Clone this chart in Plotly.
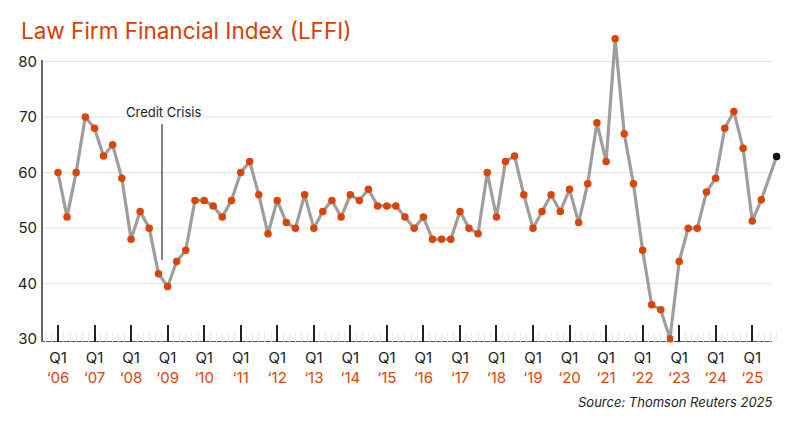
import plotly.graph_objects as go

# ---- data ----
years = list(range(2006, 2026))
quarter_months = ["01", "04", "07", "10"]
dates = [f"{y}-{m}-01" for y in range(2006, 2025) for m in quarter_months] + [
    "2025-01-01", "2025-04-01", "2025-09-01"]
values = [
    60, 52, 60, 70,      # 2006
    68, 63, 65, 59,      # 2007
    48, 53, 50, 41.8,    # 2008
    39.5, 44, 46, 55,    # 2009
    55, 54, 52, 55,      # 2010
    60, 62, 56, 49,      # 2011
    55, 51, 50, 56,      # 2012
    50, 53, 55, 52,      # 2013
    56, 55, 57, 54,      # 2014
    54, 54, 52, 50,      # 2015
    52, 48, 48, 48,      # 2016
    53, 50, 49, 60,      # 2017
    52, 62, 63, 56,      # 2018
    50, 53, 56, 53,      # 2019
    57, 51, 58, 69,      # 2020
    62, 84.1, 67, 58,    # 2021
    46, 36.2, 35.3, 30.1,  # 2022
    44, 50, 50, 56.5,    # 2023
    59, 68, 71, 64.4,    # 2024
    51.3, 55.1, 62.9,    # 2025
]
tick_dates = [f"{y}-01-01" for y in years]
tick_labels = [f"Q1<br><span style='color:#dc4405'>\u2018{str(y)[2:]}</span>" for y in years]
y_ticks = [30, 40, 50, 60, 70, 80]

ORANGE = "#dc4405"
marker_colors = [ORANGE] * (len(values) - 1) + ["#111111"]

X_START = "2005-07-25"
X_GRID_END = "2025-07-19"
X_RANGE_END = "2025-09-25"
Y_MIN, Y_MAX = 29.5, 85.5

W, H = 800, 430
ML, MR, MT, MB = 42, 20.5, 30.7, 87.5
plot_w = W - ML - MR
plot_h = H - MT - MB

fig = go.Figure()
fig.add_trace(go.Scatter(
    x=dates, y=values, mode="lines+markers",
    line=dict(color="#9e9e9e", width=3.2),
    marker=dict(color=marker_colors, size=7.5, line=dict(width=0)),
    cliponaxis=False, hoverinfo="x+y", showlegend=False,
))

fig.update_layout(
    width=W, height=H,
    margin=dict(l=ML, r=MR, t=MT, b=MB),
    paper_bgcolor="white", plot_bgcolor="white",
    font=dict(family="Inter, Roboto, sans-serif", color="#222222"),
    title=dict(
        text="Law Firm Financial Index (LFFI)",
        font=dict(size=22.5, color="#d64000", family="Inter, Roboto, sans-serif"),
        x=21 / W, xanchor="left", xref="container",
        y=1 - 30.7 / H, yanchor="middle", yref="container",
    ),
    xaxis=dict(
        type="date",
        range=[X_START, X_RANGE_END],
        tickmode="array", tickvals=tick_dates, ticktext=tick_labels,
        ticks="inside", ticklen=17, tickwidth=2, tickcolor="#222222",
        tickfont=dict(size=15, color="#222222"),
        ticklabelstandoff=5,
        showgrid=False, zeroline=False, showline=False,
        minor=dict(ticks="inside", ticklen=10, tickwidth=1, tickcolor="#ebebeb",
                   dtick="M2", showgrid=False),
        fixedrange=True, automargin=False,
    ),
    yaxis=dict(
        range=[Y_MIN, Y_MAX],
        tickmode="array", tickvals=y_ticks,
        showgrid=False, zeroline=False, showline=False,
        ticks="", tickfont=dict(size=15, color="#222222"),
        ticklabelstandoff=4,
        fixedrange=True, automargin=False,
    ),
)

# horizontal gridlines
for v in y_ticks[1:]:
    fig.add_shape(type="line", xref="x", yref="y", x0=X_START, x1=X_GRID_END, y0=v, y1=v,
                  line=dict(color="#e3e3e3", width=1), layer="below")
# x-axis baseline
fig.add_shape(type="line", xref="x", yref="y", x0=X_START, x1=X_GRID_END, y0=Y_MIN, y1=Y_MIN,
              line=dict(color="#555555", width=2), layer="below")
# y-axis line (only up to the 80 level)
fig.add_shape(type="line", xref="paper", yref="y", x0=0, x1=0, y0=Y_MIN, y1=80.3,
              line=dict(color="#666666", width=2))

# Credit Crisis marker
fig.add_shape(type="line", xref="x", yref="y", x0="2008-11-05", x1="2008-11-05",
              y0=44.3, y1=68.7, line=dict(color="#555555", width=1.5))
fig.add_annotation(x="2008-11-27", y=70.9, xref="x", yref="y", text="Credit Crisis",
                   showarrow=False, font=dict(size=13, color="#222222"),
                   xanchor="center", yanchor="middle")

# Source
fig.add_annotation(x=(775.7 - ML) / plot_w, y=-(403 - (H - MB)) / plot_h,
                   xref="paper", yref="paper",
                   text="<i>Source: Thomson Reuters 2025</i>", showarrow=False,
                   xanchor="right", yanchor="middle",
                   font=dict(size=13, color="#222222"))

fig.write_html("out.html", post_script="document.body.style.margin='0';",
               config={"displayModeBar": False})
